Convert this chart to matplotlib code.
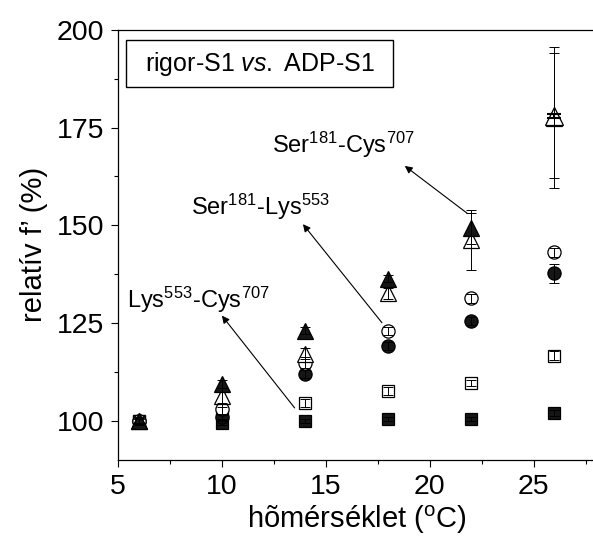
import matplotlib
matplotlib.use('Agg')
import matplotlib.pyplot as plt
from matplotlib.patches import Rectangle
from matplotlib.ticker import MultipleLocator

plt.rcParams['font.family'] = 'Liberation Sans'
plt.rcParams['mathtext.fontset'] = 'custom'
plt.rcParams['mathtext.rm'] = 'Liberation Sans'
plt.rcParams['mathtext.it'] = 'Liberation Sans:italic'

# temperatures (°C)
temp = [6, 10, 14, 18, 22, 26]

# Lys553-Cys707 (squares)
sq_filled = [100, 99.4, 100, 100.5, 100.5, 102]
sq_filled_err = [0.5, 0.5, 0.5, 0.5, 0.5, 0.8]
sq_open = [100, 102, 104.6, 107.7, 109.7, 116.7]
sq_open_err = [0.8, 1.5, 1.0, 1.0, 0.8, 1.2]

# Ser181-Lys553 (circles)
circ_filled = [100, 101, 112, 119.2, 125.6, 137.7]
circ_filled_err = [0.5, 0.8, 1.0, 1.0, 1.0, 2.5]
circ_open = [100, 103, 114.9, 123, 131.3, 143.1]
circ_open_err = [0.8, 1.5, 1.5, 1.0, 1.2, 1.2]

# Ser181-Cys707 (triangles)
tri_filled = [100, 109.5, 123.1, 136.4, 149.2, 177.5]
tri_filled_err = [0.5, 1.0, 1.0, 1.0, 4.0, 18.0]
tri_open = [100, 106.4, 117.2, 132.6, 146.2, 178]
tri_open_err = [1.0, 2.0, 1.5, 1.5, 7.7, 16.0]

fig = plt.figure(figsize=(5.93, 5.43), dpi=100)
ax = fig.add_axes([0.199, 0.153, 0.806, 0.792])

dark = '#161616'
series = [
    (sq_filled, sq_filled_err, 's', 8.5, dark),
    (sq_open, sq_open_err, 's', 8.5, 'white'),
    (circ_filled, circ_filled_err, 'o', 9.5, dark),
    (circ_open, circ_open_err, 'o', 9.5, 'white'),
    (tri_open, tri_open_err, '^', 11.5, 'white'),
    (tri_filled, tri_filled_err, '^', 11.5, dark),
]
for vals, err, mk, ms, fc in series:
    ax.plot(temp, vals, linestyle='none', marker=mk, markersize=ms,
            markerfacecolor=fc, markeredgecolor='black', markeredgewidth=0.9, zorder=3)
    ax.errorbar(temp, vals, yerr=err, fmt='none', ecolor='black',
                elinewidth=0.7, capsize=3.6, capthick=0.7, zorder=4)

# at 26 °C the open triangle lies on top of the filled one
ax.plot(temp[-1:], tri_open[-1:], linestyle='none', marker='^', markersize=13,
        markerfacecolor='white', markeredgecolor='black', markeredgewidth=0.9, zorder=3.5)
ax.errorbar(temp[-1:], tri_open[-1:], yerr=[0.6], fmt='none', ecolor='black',
            elinewidth=1.5, capsize=5, capthick=1.5, zorder=4)

ax.set_xlim(5, 28)
ax.set_ylim(90, 200)
ax.xaxis.set_major_locator(MultipleLocator(5))
ax.xaxis.set_minor_locator(MultipleLocator(2.5))
ax.yaxis.set_major_locator(MultipleLocator(25))
ax.yaxis.set_minor_locator(MultipleLocator(12.5))
ax.tick_params(which='major', direction='out', length=5, width=0.8, labelsize=20.5, pad=5)
ax.tick_params(which='minor', direction='out', length=3, width=0.8)
ax.tick_params(top=False, right=False)
for s in ax.spines.values():
    s.set_linewidth(0.9)

ax.set_xlabel('hõmérséklet ($^{\\mathrm{o}}$C)', fontsize=21, labelpad=3)
ax.set_ylabel('relatív f\u2019 (%)', fontsize=21, labelpad=6)

# legend-like title box
ax.add_patch(Rectangle((0.017, 0.867), 0.558, 0.11, transform=ax.transAxes,
                       facecolor='white', edgecolor='black', linewidth=1.0, zorder=5))
ax.text(0.296, 0.921, 'rigor-S1 $\\mathit{vs.}$ ADP-S1', transform=ax.transAxes,
        ha='center', va='center', fontsize=18, zorder=6)

arrow = dict(arrowstyle='-|>', color='black', lw=0.8, mutation_scale=11,
             shrinkA=0, shrinkB=0)
ax.annotate('', xy=(18.8, 165.2), xytext=(21.8, 153.1), arrowprops=arrow)
ax.text(12.4, 168.5, 'Ser$^{181}$-Cys$^{707}$', fontsize=17, va='baseline')
ax.annotate('', xy=(13.9, 150.3), xytext=(17.7, 125.1), arrowprops=arrow)
ax.text(8.5, 152.6, 'Ser$^{181}$-Lys$^{553}$', fontsize=17, va='baseline')
ax.annotate('', xy=(10.0, 126.9), xytext=(13.5, 103.3), arrowprops=arrow)
ax.text(5.45, 129.0, 'Lys$^{553}$-Cys$^{707}$', fontsize=17, va='baseline')

fig.savefig('out.png', dpi=100)
